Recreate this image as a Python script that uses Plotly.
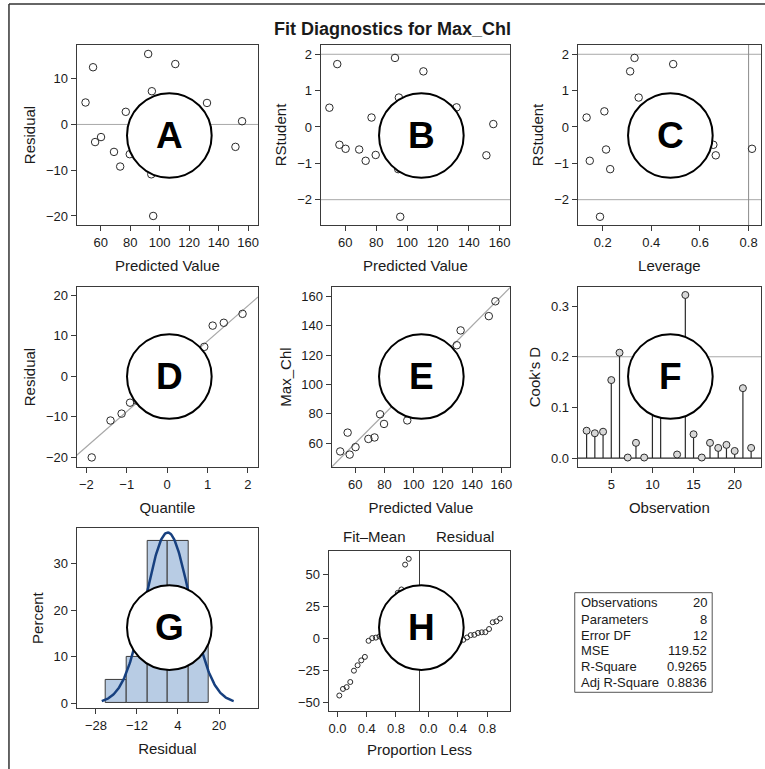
import numpy as np
import plotly.graph_objects as go

W, H = 765, 769

# ---------------- data ----------------
predicted = [49.7, 54.8, 56.2, 60.2, 69.0, 73.2, 77.0, 79.7, 92.2, 94.7,
             95.6, 94.3, 110.6, 132.1, 151.4, 155.9, 129.5, 109.0, 97.0, 100.0]
residual = [4.8, 12.5, -3.85, -2.76, -6.0, -9.2, 2.76, -6.5, 15.4, 7.26,
            -20.0, -10.9, 13.2, 4.7, -4.9, 0.7, -2.8, 4.2, 2.5, -1.1]
rstudent = [0.53, 1.73, -0.49, -0.60, -0.62, -0.93, 0.26, -0.77, 1.90, 0.81,
            -2.47, -1.16, 1.53, 0.54, -0.78, 0.08, -0.38, 0.43, 0.31, -0.14]
leverage = [0.40, 0.49, 0.655, 0.814, 0.214, 0.147, 0.134, 0.45, 0.331, 0.348,
            0.189, 0.231, 0.313, 0.50, 0.665, 0.55, 0.58, 0.207, 0.42, 0.50]
obs_number = [2, 3, 4, 5, 6, 7, 8, 9, 10, 11, 13, 14, 15, 16, 17, 18, 19, 20, 21, 22]
cooks_d = [0.054, 0.049, 0.052, 0.154, 0.208, 0.001, 0.030, 0.001, 0.12, 0.10,
           0.007, 0.322, 0.047, 0.001, 0.030, 0.020, 0.026, 0.014, 0.138, 0.020]
normal_quantile = [-1.868, -1.403, -1.128, -0.919, -0.744, -0.589, -0.448, -0.315, -0.187, -0.062,
                   0.062, 0.187, 0.315, 0.448, 0.589, 0.744, 0.919, 1.128, 1.403, 1.868]
proportion_less = [0.025, 0.075, 0.125, 0.175, 0.225, 0.275, 0.325, 0.375, 0.425, 0.475,
                   0.525, 0.575, 0.625, 0.675, 0.725, 0.775, 0.825, 0.875, 0.925, 0.975]
stat_labels = ["Observations", "Parameters", "Error DF", "MSE", "R-Square", "Adj R-Square"]
stat_values = ["20", "8", "12", "119.52", "0.9265", "0.8836"]
panel_letters = ["A", "B", "C", "D", "E", "F", "G", "H"]

# thresholds used by the reference lines
rstudent_limit = 2
leverage_limit = 0.8
cooks_limit = 0.2

# ---------------- derived ----------------
pred = np.array(predicted)
res = np.array(residual)
observed = pred + res
fit_minus_mean = np.sort(pred - pred.mean())
res_sorted = np.sort(res)
sd = float(np.sqrt(np.sum(res ** 2) / (len(res) - 1)))

FONT = "Liberation Sans, Arial, sans-serif"
AX = "#3a3a3a"
REF = "#a8a8a8"
MK = "#2a2a2a"
TXT = "#1a1a1a"


def px(x):
    return x / W


def py(y):
    return 1 - y / H


def sfx(i):
    return "" if i == 1 else str(i)


# panel boxes in pixels: (left, right, top, bottom)
boxes = {
    1: (76, 258, 45, 226),
    2: (321, 511, 45, 226),
    3: (579, 763, 45, 226),
    4: (76, 258, 288, 469),
    5: (332, 511, 288, 469),
    6: (579, 763, 288, 469),
    7: (76, 258, 530, 711),
    8: (329, 420, 553, 714),
    9: (421, 511, 553, 714),
}

layout = dict(
    width=W, height=H, margin=dict(l=0, r=0, t=0, b=0),
    paper_bgcolor="white", plot_bgcolor="white", showlegend=False,
    font=dict(family=FONT, color=TXT),
)


def add_axes(i, xr, xt, yr, yt, xtitle=None, ytitle=None, xfmt=None, yfmt=None,
             showy=True):
    l, r, t, b = boxes[i]
    common = dict(ticks="outside", ticklen=5, tickwidth=1, tickcolor=AX,
                  showline=True, linecolor=AX, linewidth=1.2, mirror=True,
                  showgrid=False, zeroline=False,
                  tickfont=dict(size=13, color=TXT, family=FONT))
    xa = dict(common, domain=[px(l), px(r)], range=xr, tickvals=xt,
              anchor=f"y{sfx(i)}")
    ya = dict(common, domain=[py(b), py(t)], range=yr, tickvals=yt,
              anchor=f"x{sfx(i)}")
    if xfmt:
        xa["tickformat"] = xfmt
    if yfmt:
        ya["tickformat"] = yfmt
    if xtitle:
        xa["title"] = dict(text=xtitle, font=dict(size=15, family=FONT, color=TXT), standoff=11)
    if ytitle:
        ya["title"] = dict(text=ytitle, font=dict(size=15, family=FONT, color=TXT), standoff=6)
    if not showy:
        ya["showticklabels"] = False
        ya["ticks"] = ""
    layout[f"xaxis{sfx(i)}"] = xa
    layout[f"yaxis{sfx(i)}"] = ya


add_axes(1, [43.7, 166.7], [60, 80, 100, 120, 140, 160], [-22, 17.4], [-20, -10, 0, 10],
         "Predicted Value", "Residual")
add_axes(2, [44.1, 166.7], [60, 80, 100, 120, 140, 160], [-2.70, 2.26], [-2, -1, 0, 1, 2],
         "Predicted Value", "RStudent")
add_axes(3, [0.0975, 0.851], [0.2, 0.4, 0.6, 0.8], [-2.70, 2.26], [-2, -1, 0, 1, 2],
         "Leverage", "RStudent", xfmt=".1f")
add_axes(4, [-2.24, 2.25], [-2, -1, 0, 1, 2], [-22.4, 22.05], [-20, -10, 0, 10, 20],
         "Quantile", "Residual")
add_axes(5, [43.9, 165.9], [60, 80, 100, 120, 140, 160], [43.8, 166.4],
         [60, 80, 100, 120, 140, 160], "Predicted Value", "Max_Chl")
add_axes(6, [0.92, 23.2], [5, 10, 15, 20], [-0.018, 0.338], [0.0, 0.1, 0.2, 0.3],
         "Observation", "Cook's D", yfmt=".1f")
add_axes(7, [-35.5, 35.2], [-28, -12, 4, 20], [-1.07, 37.7], [0, 10, 20, 30],
         "Residual", "Percent")
add_axes(8, [-0.12, 1.12], [0.0, 0.4, 0.8], [-56.6, 68], [-50, -25, 0, 25, 50],
         None, None, xfmt=".1f")
add_axes(9, [-0.11, 1.11], [0.0, 0.4, 0.8], [-56.6, 68], [-50, -25, 0, 25, 50],
         None, None, xfmt=".1f", showy=False)

fig = go.Figure()
open_marker = dict(symbol="circle-open", size=7.5, color=MK, line=dict(width=1, color=MK))


def sc(x, y, i, **kw):
    fig.add_trace(go.Scatter(x=x, y=y, xaxis=f"x{sfx(i)}", yaxis=f"y{sfx(i)}",
                             hoverinfo="skip", **kw))


# A
sc(predicted, residual, 1, mode="markers", marker=open_marker)
# B
sc(predicted, rstudent, 2, mode="markers", marker=open_marker)
# C
sc(leverage, rstudent, 3, mode="markers", marker=open_marker)
# D  reference line + points
qx = np.array(layout["xaxis4"]["range"])
sc(qx, sd * qx, 4, mode="lines", line=dict(color=REF, width=1.2))
sc(normal_quantile, res_sorted, 4, mode="markers", marker=open_marker)
# E  diagonal + points
ex = np.array(layout["xaxis5"]["range"])
sc([ex[0] - 5, ex[1] + 5], [ex[0] - 5, ex[1] + 5], 5, mode="lines", line=dict(color=REF, width=1.2))
sc(predicted, observed, 5, mode="markers", marker=open_marker)
# F  needles
nx, ny = [], []
for o, d in zip(obs_number, cooks_d):
    nx += [o, o, None]
    ny += [0, d, None]
sc(nx, ny, 6, mode="lines", line=dict(color=MK, width=1.2))
sc(obs_number, cooks_d, 6, mode="markers",
   marker=dict(symbol="circle", size=7, color="#d8d8d8", line=dict(width=1, color=MK)))
# G  histogram + normal density
fig.add_trace(go.Histogram(x=residual, xaxis="x7", yaxis="y7", histnorm="percent",
                           xbins=dict(start=-24, end=16, size=8),
                           marker=dict(color="#b8cce4", line=dict(color="#3a3a3a", width=1)),
                           hoverinfo="skip"))
gx = np.linspace(-2.96 * sd, 2.96 * sd, 200)
gy = 100 * 8 * np.exp(-0.5 * (gx / sd) ** 2) / (sd * np.sqrt(2 * np.pi))
sc(gx, gy, 7, mode="lines", line=dict(color="#17407f", width=2.5))
# H  residual-fit spread
small_marker = dict(symbol="circle-open", size=5, color=MK, line=dict(width=1, color=MK))
sc(proportion_less, fit_minus_mean, 8, mode="markers", marker=small_marker)
sc(proportion_less, res_sorted, 9, mode="markers", marker=small_marker)

shapes = []
ann = []


def hline(i, y, color=REF, width=1):
    shapes.append(dict(type="line", xref=f"x{sfx(i)} domain", yref=f"y{sfx(i)}", x0=0, x1=1,
                       y0=y, y1=y, line=dict(color=color, width=width), layer="below"))


def vline(i, x, color=REF, width=1):
    shapes.append(dict(type="line", xref=f"x{sfx(i)}", yref=f"y{sfx(i)} domain", x0=x, x1=x,
                       y0=0, y1=1, line=dict(color=color, width=width), layer="below"))


hline(1, 0)
hline(2, rstudent_limit)
hline(2, -rstudent_limit)
hline(3, rstudent_limit)
hline(3, -rstudent_limit)
vline(3, leverage_limit, color="#8c8c8c")
hline(6, cooks_limit)
hline(6, 0, color=MK, width=1.2)

# outer frame
shapes.append(dict(type="line", xref="paper", yref="paper", x0=px(8), x1=px(770),
                   y0=py(4), y1=py(4), line=dict(color="#333333", width=1.5)))
shapes.append(dict(type="line", xref="paper", yref="paper", x0=px(8), x1=px(8),
                   y0=py(4), y1=py(775), line=dict(color="#333333", width=1.5)))

# statistics box
shapes.append(dict(type="rect", xref="paper", yref="paper", x0=px(576), x1=px(714),
                   y0=py(695), y1=py(595), line=dict(color="#555555", width=1),
                   fillcolor="white"))
row_y = [605, 621.5, 637.5, 653.5, 669.5, 685.5]
for lab, val, yy in zip(stat_labels, stat_values, row_y):
    ann.append(dict(text=lab, xref="paper", yref="paper", x=px(580), y=py(yy),
                    xanchor="left", yanchor="middle", showarrow=False,
                    font=dict(size=13, family=FONT, color=TXT)))
    ann.append(dict(text=val, xref="paper", yref="paper", x=px(711), y=py(yy),
                    xanchor="right", yanchor="middle", showarrow=False,
                    font=dict(size=13, family=FONT, color=TXT)))

# title
ann.append(dict(text="Fit Diagnostics for Max_Chl", xref="paper", yref="paper",
                x=px(393), y=py(29), xanchor="center", yanchor="middle", showarrow=False,
                font=dict(size=18, family=FONT, color=TXT, weight="bold")))

# H panel headers and shared x title
ann.append(dict(text="Fit\u2013Mean", xref="paper", yref="paper", x=px(374.5), y=py(539),
                xanchor="center", yanchor="middle", showarrow=False,
                font=dict(size=15, family=FONT, color=TXT)))
ann.append(dict(text="Residual", xref="paper", yref="paper", x=px(466), y=py(539),
                xanchor="center", yanchor="middle", showarrow=False,
                font=dict(size=15, family=FONT, color=TXT)))
ann.append(dict(text="Proportion Less", xref="paper", yref="paper", x=px(420), y=py(752),
                xanchor="center", yanchor="middle", showarrow=False,
                font=dict(size=15, family=FONT, color=TXT)))

# lettered circles
centers = [(169, 136), (422, 136), (672, 136), (169, 378), (422, 378), (672, 378),
           (169, 630), (422, 630)]
R = 42.5
for letter, (cx, cy) in zip(panel_letters, centers):
    shapes.append(dict(type="circle", xref="paper", yref="paper",
                       x0=px(cx - R), x1=px(cx + R), y0=py(cy + R), y1=py(cy - R),
                       fillcolor="white", line=dict(color="black", width=2), layer="above"))
    ann.append(dict(text=letter, xref="paper", yref="paper", x=px(cx), y=py(cy),
                    xanchor="center", yanchor="middle", showarrow=False,
                    font=dict(size=37, family=FONT, color="black", weight="bold")))

layout["shapes"] = shapes
layout["annotations"] = ann
fig.update_layout(**layout)
fig.write_html("out.html")
